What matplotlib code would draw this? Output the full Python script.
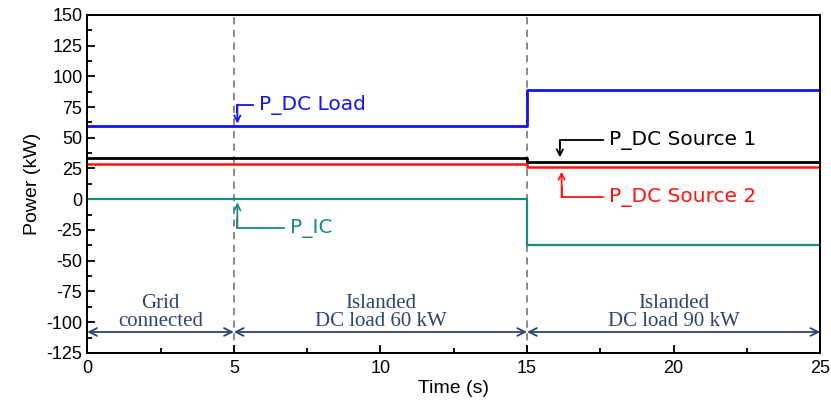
#!/usr/bin/env python3
"""
Power sharing of DC microgrid: grid connected -> islanded -> load step.
"""

import matplotlib.pyplot as plt
from matplotlib.ticker import MultipleLocator

# step times (s): values hold before / after the load step at 15 s
time_s = [0, 15, 15, 25]
p_dc_load = [59.5, 59.5, 89, 89]
p_dc_source1 = [33.5, 33.5, 30.5, 30.5]
p_dc_source2 = [29, 29, 26, 26]
p_ic = [0, 0, -37.5, -37.5]

event_times = [5, 15]
region_edges = [0, 5, 15, 25]
region_labels = ['Grid\nconnected', 'Islanded\nDC load 60 kW', 'Islanded\nDC load 90 kW']

OUTPUT_FILE = 'out.png'

C_LOAD = '#1414f0'
C_SRC1 = '#000000'
C_SRC2 = '#ff1414'
C_IC = '#1b8a80'
C_REGION = '#2c4470'

plt.rcParams['axes.unicode_minus'] = False
plt.rcParams['font.family'] = ['Liberation Sans', 'DejaVu Sans']


def elbow_label(ax, x_tip, y_tip, y_bend, x_end, text, color):
    """Arrow with a right-angle bend, text at the end of the horizontal leg"""
    ax.plot([x_end, x_tip, x_tip], [y_bend, y_bend, y_bend + (y_tip - y_bend) * 0.4],
            color=color, linewidth=1.3, clip_on=False)
    ax.annotate('', xy=(x_tip, y_tip), xytext=(x_tip, y_bend),
                arrowprops=dict(arrowstyle='->', color=color, lw=1.3,
                                shrinkA=0, shrinkB=0, mutation_scale=11))
    ax.text(x_end + 0.2, y_bend, text, color=color, fontsize=14.5,
            family='DejaVu Sans', va='center', ha='left')


def main():
    fig = plt.figure(figsize=(8.31, 4.01), dpi=100)
    ax = fig.add_axes([0.105, 0.12, 0.882, 0.843])

    for t in event_times:
        ax.axvline(t, color='#808080', linestyle=(0, (4, 3)), linewidth=1.3, zorder=1)

    ax.plot(time_s, p_dc_load, color=C_LOAD, linewidth=2)
    ax.plot(time_s, p_dc_source1, color=C_SRC1, linewidth=2)
    ax.plot(time_s, p_dc_source2, color=C_SRC2, linewidth=1.8)
    ax.plot(time_s, p_ic, color=C_IC, linewidth=1.6)

    elbow_label(ax, 5.12, 61.5, 77, 5.65, 'P_DC Load', C_LOAD)
    elbow_label(ax, 5.12, -2.5, -23.5, 6.7, 'P_IC', C_IC)
    elbow_label(ax, 16.12, 34, 48, 17.6, 'P_DC Source 1', C_SRC1)
    elbow_label(ax, 16.18, 22.5, 1.5, 17.6, 'P_DC Source 2', C_SRC2)

    # operating-mode spans along the bottom
    for i, label in enumerate(region_labels):
        x0, x1 = region_edges[i], region_edges[i + 1]
        ax.annotate('', xy=(x0, -108), xytext=(x1, -108),
                    arrowprops=dict(arrowstyle='<->', color=C_REGION, lw=1.3,
                                    shrinkA=0, shrinkB=0, mutation_scale=14))
        ax.text((x0 + x1) / 2, -92, label, color=C_REGION, fontsize=15,
                family='Liberation Serif', ha='center', va='center', linespacing=0.9)

    ax.set_xlim(0, 25)
    ax.set_ylim(-125, 150)
    ax.xaxis.set_major_locator(MultipleLocator(5))
    ax.xaxis.set_minor_locator(MultipleLocator(2.5))
    ax.yaxis.set_major_locator(MultipleLocator(25))
    ax.yaxis.set_minor_locator(MultipleLocator(12.5))
    ax.tick_params(which='both', direction='in', labelsize=13, width=1.3)
    ax.tick_params(which='major', length=6)
    ax.tick_params(which='minor', length=3.5)
    ax.tick_params(axis='x', pad=5)
    for s in ax.spines.values():
        s.set_linewidth(1.4)

    ax.set_xlabel('Time (s)', fontsize=14, labelpad=2)
    ax.set_ylabel('Power (kW)', fontsize=14, labelpad=4)

    plt.savefig(OUTPUT_FILE, dpi=100)
    print(f'Saved {OUTPUT_FILE}')


if __name__ == '__main__':
    main()
